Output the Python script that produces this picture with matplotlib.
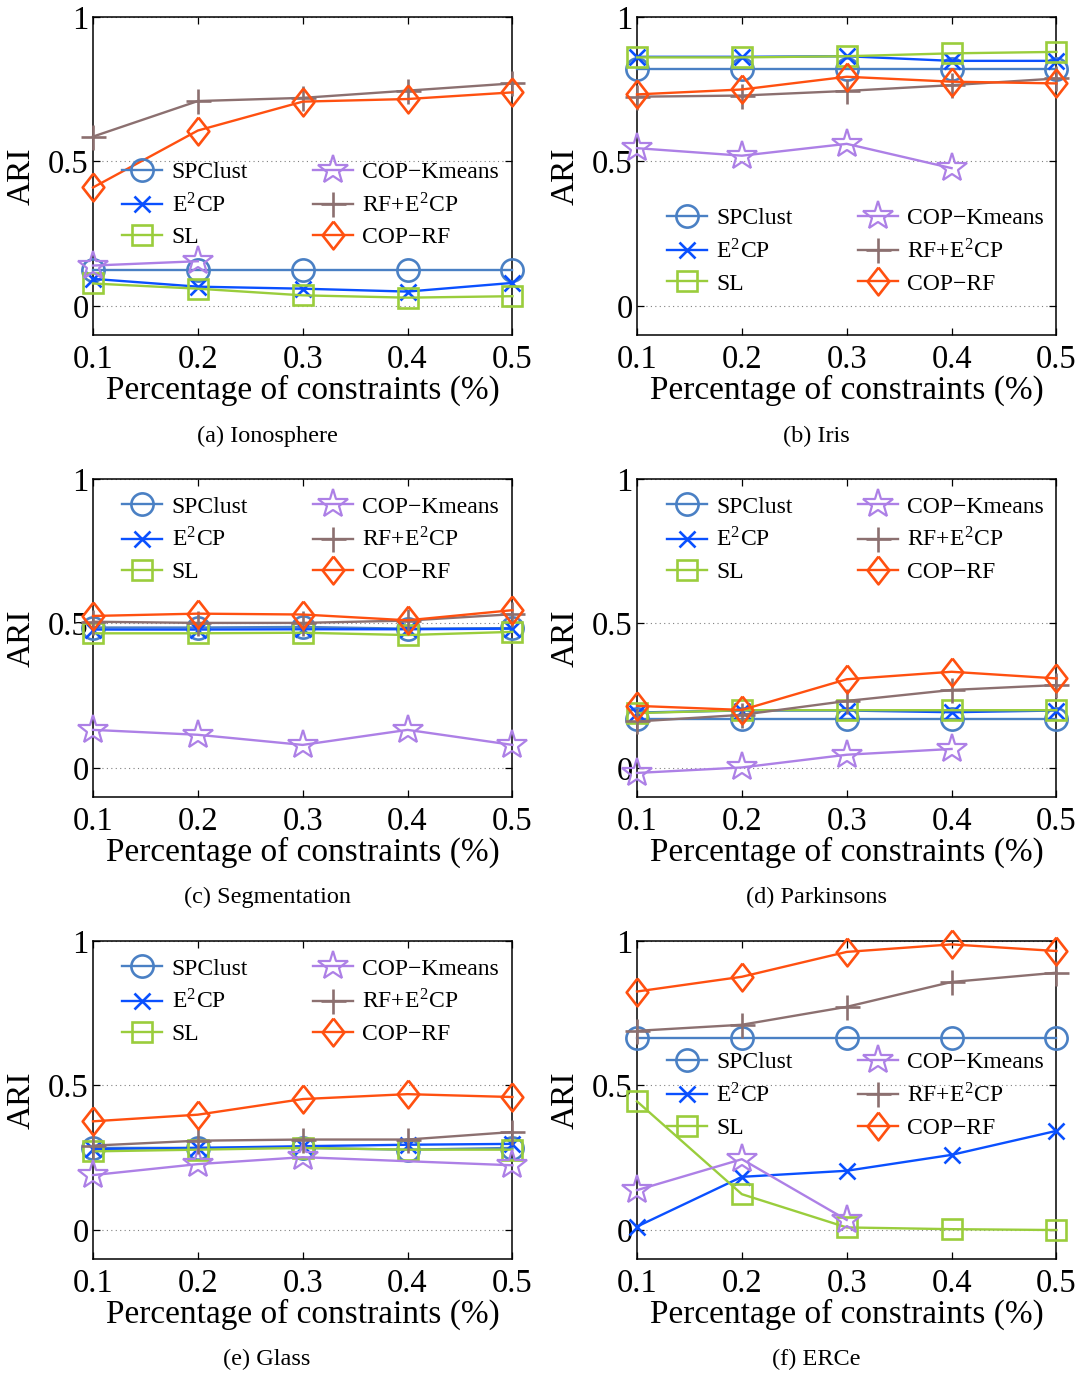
import matplotlib
matplotlib.use('Agg')
import matplotlib.pyplot as plt

plt.rcParams['font.family'] = ['Liberation Serif', 'DejaVu Serif']
plt.rcParams['mathtext.fontset'] = 'stix'

# x axis: percentage of constraints
pct = [0.1, 0.2, 0.3, 0.4, 0.5]

methods = ['SPClust', r'E$^\mathregular{2}$CP', 'SL',
           'COP\u2212Kmeans', r'RF+E$^\mathregular{2}$CP', 'COP\u2212RF']

# ARI values per dataset, one list per method (same order as methods)
iono_spclust = [0.123, 0.123, 0.123, 0.123, 0.123]
iono_e2cp = [0.094, 0.067, 0.060, 0.050, 0.080]
iono_sl = [0.078, 0.060, 0.037, 0.029, 0.034]
iono_copk = [0.140, 0.155]
iono_rfe2cp = [0.586, 0.709, 0.720, 0.745, 0.770]
iono_coprf = [0.410, 0.607, 0.707, 0.716, 0.739]

iris_spclust = [0.820, 0.820, 0.820, 0.820, 0.820]
iris_e2cp = [0.862, 0.862, 0.864, 0.848, 0.848]
iris_sl = [0.860, 0.860, 0.864, 0.874, 0.879]
iris_copk = [0.546, 0.520, 0.561, 0.477]
iris_rfe2cp = [0.724, 0.728, 0.744, 0.764, 0.787]
iris_coprf = [0.732, 0.749, 0.793, 0.776, 0.770]

seg_spclust = [0.486, 0.486, 0.488, 0.482, 0.484]
seg_e2cp = [0.479, 0.479, 0.480, 0.480, 0.482]
seg_sl = [0.466, 0.466, 0.468, 0.460, 0.471]
seg_copk = [0.132, 0.115, 0.080, 0.132, 0.080]
seg_rfe2cp = [0.506, 0.502, 0.502, 0.510, 0.532]
seg_coprf = [0.526, 0.534, 0.531, 0.511, 0.546]

park_spclust = [0.169, 0.169, 0.169, 0.169, 0.169]
park_e2cp = [0.192, 0.199, 0.199, 0.193, 0.199]
park_sl = [0.190, 0.200, 0.200, 0.200, 0.200]
park_copk = [-0.017, 0.002, 0.046, 0.066]
park_rfe2cp = [0.161, 0.184, 0.232, 0.270, 0.287]
park_coprf = [0.215, 0.201, 0.307, 0.333, 0.310]

glass_spclust = [0.284, 0.284, 0.284, 0.278, 0.284]
glass_e2cp = [0.280, 0.284, 0.290, 0.295, 0.298]
glass_sl = [0.272, 0.278, 0.284, 0.278, 0.278]
glass_copk = [0.190, 0.228, 0.252, 0.238, 0.224]
glass_rfe2cp = [0.292, 0.309, 0.313, 0.313, 0.339]
glass_coprf = [0.376, 0.399, 0.453, 0.470, 0.460]

erce_spclust = [0.664, 0.664, 0.664, 0.664, 0.664]
erce_e2cp = [0.012, 0.184, 0.205, 0.260, 0.343]
erce_sl = [0.445, 0.124, 0.009, 0.003, 0.000]
erce_copk = [0.138, 0.245, 0.035]
erce_rfe2cp = [0.689, 0.710, 0.772, 0.858, 0.890]
erce_coprf = [0.825, 0.876, 0.962, 0.988, 0.965]

captions = ['(a) Ionosphere', '(b) Iris', '(c) Segmentation',
            '(d) Parkinsons', '(e) Glass', '(f) ERCe']

# slightly narrow diamond for COP-RF
diamond = [(0, 1), (0.78, 0), (0, -1), (-0.78, 0), (0, 1)]

colors = ['#4a80c4', '#0a50ff', '#9acd3c', '#ad80e6', '#8c7070', '#ff5010']
markers = ['o', 'x', 's', '*', '+', diamond]
msizes = [16, 12, 14, 22, 18, 20]

panels = [
    [iono_spclust, iono_e2cp, iono_sl, iono_copk, iono_rfe2cp, iono_coprf],
    [iris_spclust, iris_e2cp, iris_sl, iris_copk, iris_rfe2cp, iris_coprf],
    [seg_spclust, seg_e2cp, seg_sl, seg_copk, seg_rfe2cp, seg_coprf],
    [park_spclust, park_e2cp, park_sl, park_copk, park_rfe2cp, park_coprf],
    [glass_spclust, glass_e2cp, glass_sl, glass_copk, glass_rfe2cp, glass_coprf],
    [erce_spclust, erce_e2cp, erce_sl, erce_copk, erce_rfe2cp, erce_coprf],
]

# where the legend sits inside each panel (axes fraction, upper left)
legend_anchor = [(0.069, 0.546), (0.071, 0.401), (0.069, 0.946),
                 (0.071, 0.946), (0.069, 0.946), (0.071, 0.651)]

# glass COP-Kmeans has no marker drawn at 0.4
markevery_glass_copk = [0, 1, 2, 4]

fig = plt.figure(figsize=(10.9, 13.75), dpi=100)

col_left = [0.0853, 0.5844]
row_bottom = [0.7564, 0.4204, 0.0844]
ax_w, ax_h = 0.3848, 0.2313
caption_y = [1 - 436 / 1375, 1 - 897 / 1375, 1 - 1359 / 1375]
caption_x = [0.245, 0.749]

for k, series in enumerate(panels):
    r, c = divmod(k, 2)
    ax = fig.add_axes([col_left[c], row_bottom[r], ax_w, ax_h])

    for j, vals in enumerate(series):
        me = None
        if k == 4 and j == 3:
            me = markevery_glass_copk
        ax.plot(pct[:len(vals)], vals, color=colors[j], marker=markers[j],
                markersize=msizes[j], markerfacecolor='none',
                markeredgewidth=1.6 if j == 3 else 1.9,
                linewidth=1.7, label=methods[j], markevery=me,
                clip_on=False, zorder=3)

    ax.set_xlim(0.1, 0.5)
    ax.set_ylim(-0.1, 1.0)
    ax.set_xticks(pct)
    ax.set_xticklabels(['0.1', '0.2', '0.3', '0.4', '0.5'])
    ax.set_yticks([0, 0.5, 1])
    ax.set_yticklabels(['0', '0.5', '1'])
    ax.yaxis.grid(True, linestyle=(0, (1, 3)), color='0.5', linewidth=0.8)
    ax.set_axisbelow(True)
    ax.tick_params(direction='in', top=True, right=True, length=5,
                   width=0.9, labelsize=23.5, pad=7)
    ax.tick_params(axis='y', pad=3)
    for sp in ax.spines.values():
        sp.set_linewidth(1.1)

    ax.set_xlabel('Percentage of constraints (%)', fontsize=24, labelpad=0)
    ax.set_ylabel('ARI', fontsize=24, labelpad=8)

    ax.legend(ncol=2, loc='upper left', bbox_to_anchor=legend_anchor[k],
              frameon=False, fontsize=17, borderpad=0, borderaxespad=0,
              handlelength=1.7, handletextpad=0.4, columnspacing=2.75,
              labelspacing=0.42)

    fig.text(caption_x[c], caption_y[r], captions[k], ha='center',
             va='center', fontsize=17.5)

plt.savefig('out.png', dpi=100)
